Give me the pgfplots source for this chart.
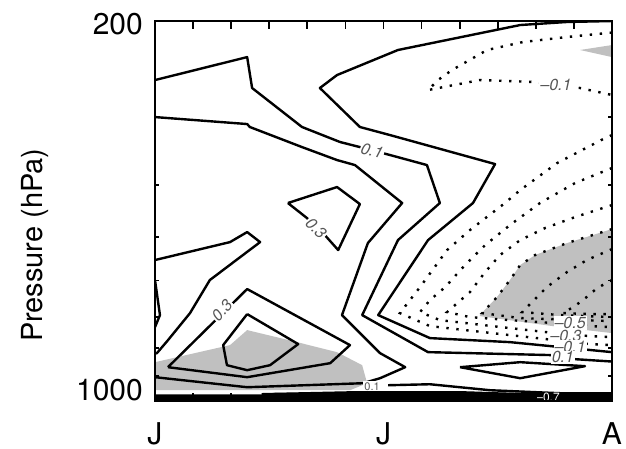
\documentclass[border=0pt]{standalone}
\usepackage{fontspec}
\setmainfont{TeX Gyre Heros}
\usepackage{pgfplots}
\pgfplotsset{compat=1.18}
\definecolor{shade}{RGB}{192,192,192}
\definecolor{lbl}{RGB}{85,85,85}
\tikzset{
  poscont/.style={black, line width=2.4pt, line join=round},
  negcont/.style={black, line width=2.4pt, dash pattern=on 2.4pt off 7.6pt},
  contlab/.style={fill=white, inner sep=1pt, text=lbl, font=\fontsize{16}{16}\selectfont\itshape},
}
\begin{document}
\begin{tikzpicture}
\begin{axis}[
  scale only axis, width=457pt, height=380pt,
  xmin=0, xmax=12, ymin=200, ymax=1000, ymode=log, y dir=reverse,
  axis line style={line width=2pt},
  xtick={0,1,2,3,4,5,6,7,8,9,10,11,12},
  xticklabels={J,,,,,,J,,,,,,A},
  ytick={200,1000}, yticklabels={200,{}},
  minor ytick={300,400,500,600,700,800,900},
  extra y ticks={1000}, extra y tick labels={1000},
  extra y tick style={yticklabel style={yshift=14pt}},
  major tick length=8pt, minor tick length=4pt,
  every tick/.style={black, line width=1.8pt},
  tick align=inside,
  ticklabel style={font=\fontsize{30}{36}\selectfont, inner sep=0pt},
  xticklabel style={yshift=-21pt},
  yticklabel style={xshift=-12pt, yshift=-3pt},
  ylabel={Pressure (hPa)},
  ylabel style={font=\fontsize{29}{35}\selectfont, at={(axis description cs:-0.263,0.41)}, anchor=center},
  axis on top,
  /pgf/number format/assume math mode=true,
]
% shading
\addplot[draw=none, fill=shade] coordinates {(0,848.3) (1.97,789.3) (2.42,740.6) (3.73,779.3) (4.78,813.0) (5.44,859.2) (5.57,927.4) (5.12,955.3) (0,955.3)} -- cycle;
\addplot[draw=none, fill=shade] coordinates {(8.53,695.0) (8.98,643.9) (9.32,599.1) (9.59,562.2) (9.98,538.9) (10.82,512.2) (12,482.7) (12,750.1) (10.64,731.3) (8.53,698)} -- cycle;
\addplot[draw=none, fill=shade] coordinates {(11.16,226.1) (12,221.4) (12,233.0)} -- cycle;
% positive contours
\addplot[poscont] coordinates {(0,256.8) (2.42,233.0) (2.55,265.6) (3.86,313.3) (4.86,333.9) (5.38,341.1) (6.17,352.8) (7.14,368.1) (7.48,432.3) (6.38,505.8) (5.44,695.0) (7.17,813.0) (10.45,823.4) (11.03,837.6) (12,846)};
\addplot[poscont] coordinates {(0,300.4) (2.42,309.4) (2.49,313.3) (3.86,341.1) (4.78,360.4) (5.25,368.1) (6.49,432.3) (5.59,512.2) (4.91,695.0) (5.91,816.5) (6.57,866.5) (5.91,907.9) (5.46,927.4) (2.42,943.2) (0,904.0)};
\addplot[poscont] coordinates {(12,200) (10.82,200.8) (9.59,203.4) (6.38,226.1) (4.78,251.4) (4.33,265.6) (5.38,313.3) (6.17,324.2) (8.93,366.6) (8.35,432.3) (7.17,505.8) (5.86,695.0) (7.22,766.2) (9.32,779.3) (12,813)};
\addplot[poscont] coordinates {(3.49,432.3) (4.78,404.0) (5.38,434.2) (4.81,527.6) (4.46,495.2) (3.99,460.7) (3.49,432.3)};
\addplot[poscont] coordinates {(0,550.4) (1.97,510.1) (2.42,488.9) (2.76,510.1) (1.44,599.1) (0.92,689.1) (0.32,776.0) (0.05,816.5) (0,818)};
\addplot[poscont] coordinates {(0,599.1) (0.13,695.0) (0,731.3)};
\addplot[poscont] coordinates {(0.34,866.5) (2.42,622.4) (5.12,789.3) (4.60,851.9) (2.42,904.0) (0.34,866.5)};
\addplot[poscont] coordinates {(2.42,692.0) (1.79,789.3) (1.89,859.2) (2.42,877.6) (3.02,859.2) (3.76,785.9) (2.42,692.0)};
\addplot[poscont] coordinates {(8.01,866.5) (9.59,848.3) (11.29,862.8) (9.59,907.9) (8.01,866.5)};
\addplot[poscont] coordinates {(6.12,935.3) (7.22,931.4) (8.80,955.3) (10.64,967.5) (12,967.5)};
\addplot[poscont] coordinates {(2.8,971.6) (5.3,963.5) (8.0,963.5) (10.5,975.8) (12,971.6)};
\addplot[draw=none, fill=black] coordinates {(0,972) (3.0,972) (3.1,966) (12,966) (12,1000) (0,1000)} -- cycle;
% negative contours
\addplot[negcont] coordinates {(12,210) (10.82,214.0) (9.66,218.6) (8.72,226.1) (7.80,246.1) (7.43,256.8) (7.17,267.9) (8.53,256.8) (10.03,259.0) (11.16,265.6) (12,273.6)};
\addplot[negcont] coordinates {(12,324.2) (11.82,328.3) (10.56,365.0) (9.59,409.2) (9.19,432.3) (8.27,484.8) (7.67,527.6) (6.96,617.2) (6.43,689.1) (7.22,728.2) (9.32,756.5) (10.50,772.7) (11.42,785.9) (12,789.3)};
\addplot[negcont] coordinates {(12,372.7) (11.03,397.3) (10.11,432.3) (9.32,474.6) (8.67,516.6) (8.14,562.2) (7.62,617.2) (7.22,652.2) (6.96,686.2) (7.48,709.9) (9.32,734.4) (10.50,750.1) (11.42,759.7) (12,762.9)};
\addplot[negcont] coordinates {(12,436.0) (11.03,458.8) (10.24,480.7) (9.59,505.8) (9.06,538.9) (8.67,579.1) (8.27,630.4) (7.88,666.0) (7.67,686.2) (8.27,700.9) (9.32,709.9) (10.50,719.0) (11.42,728.2) (12,731.3)};
\addplot[negcont] coordinates {(12,482.7) (10.82,512.2) (9.98,538.9) (9.59,562.2) (9.32,599.1) (8.98,643.9) (8.59,689.1) (9.59,703.9) (12,712.9)};
\addplot[negcont] coordinates {(12,525.4) (11.82,532.1) (11.34,550.4) (10.82,579.1) (10.29,617.2) (9.77,671.8) (9.64,686.2) (10.64,695.0) (12,700.9)};
\addplot[negcont] coordinates {(12,599.1) (11.61,619.8) (11.24,652.2) (10.98,671.8) (10.71,689.1) (11.42,692.0) (12,692.0)};
% labels
\node[contlab, rotate=-15] at (axis cs:5.70,346.9) {0.1};
\node[contlab, rotate=-45] at (axis cs:4.23,480.7) {0.3};
\node[contlab, rotate=48] at (axis cs:1.76,680.4) {0.3};
\node[contlab] at (axis cs:10.53,262.3) {--0.1};
\node[contlab] at (axis cs:10.90,719) {--0.5};
\node[contlab] at (axis cs:10.79,759.7) {--0.3};
\node[contlab] at (axis cs:10.90,795.9) {--0.1};
\node[contlab] at (axis cs:10.71,831) {0.1};
\node[contlab, font=\fontsize{11}{11}\selectfont] at (axis cs:5.70,939.2) {0.1};
\node[text=white, inner sep=0pt, font=\fontsize{12}{12}\selectfont] at (axis cs:10.32,984) {--0.7};
\end{axis}
\pgfresetboundingbox
\path[use as bounding box] ([xshift=-155pt,yshift=-47pt]current axis.south west) rectangle ([xshift=471pt,yshift=401pt]current axis.south west);
\end{tikzpicture}
\end{document}
